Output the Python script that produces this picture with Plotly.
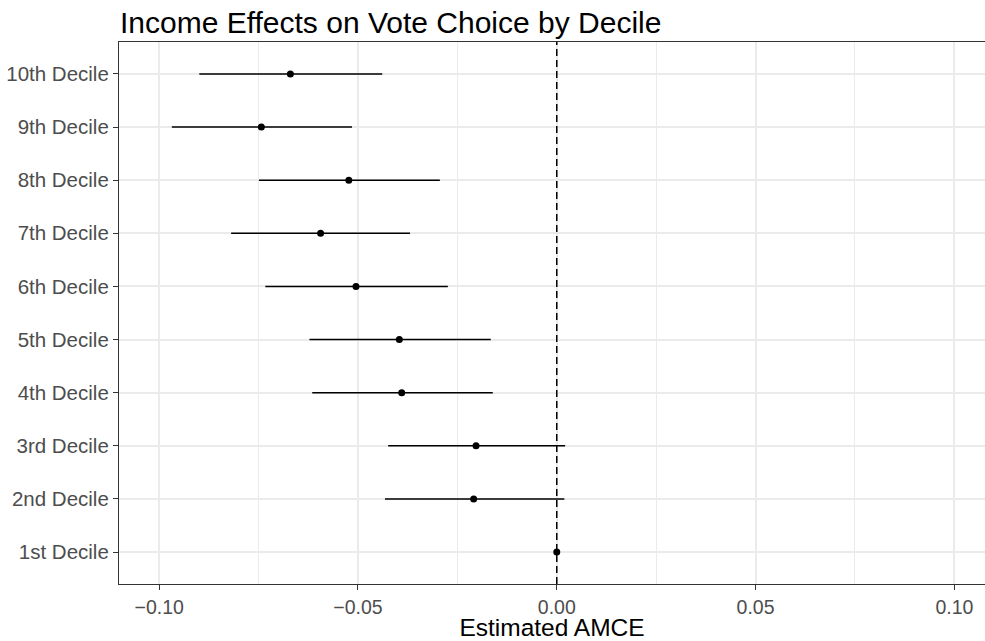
import plotly.graph_objects as go

deciles = ["1st Decile", "2nd Decile", "3rd Decile", "4th Decile", "5th Decile",
           "6th Decile", "7th Decile", "8th Decile", "9th Decile", "10th Decile"]
estimate = [0.0, -0.0209, -0.0203, -0.0390, -0.0396, -0.0505, -0.0594, -0.0523, -0.0743, -0.0670]
lower = [0.0, -0.0432, -0.0424, -0.0615, -0.0622, -0.0733, -0.0819, -0.0749, -0.0968, -0.0899]
upper = [0.0, 0.0019, 0.0021, -0.0161, -0.0166, -0.0274, -0.0369, -0.0294, -0.0515, -0.0439]

x_ticks = [-0.10, -0.05, 0.00, 0.05, 0.10]
x_tick_labels = ["\u22120.10", "\u22120.05", "0.00", "0.05", "0.10"]

err_plus = [u - e for u, e in zip(upper, estimate)]
err_minus = [e - l for e, l in zip(estimate, lower)]

FONT = "Liberation Sans, Arial, sans-serif"
W, H = 985, 641

fig = go.Figure()
fig.add_trace(go.Scatter(
    x=estimate, y=deciles, mode="markers",
    marker=dict(color="black", size=7),
    error_x=dict(type="data", symmetric=False, array=err_plus, arrayminus=err_minus,
                 color="black", thickness=1.5, width=0),
    showlegend=False, hoverinfo="skip",
))

fig.add_shape(type="line", x0=0, x1=0, xref="x", y0=0, y1=1, yref="paper",
              line=dict(color="black", width=1.5, dash="7px,4px"), layer="above")

fig.update_layout(
    width=W, height=H,
    margin=dict(l=119, r=0, t=42, b=57, pad=0),
    paper_bgcolor="white", plot_bgcolor="white",
    font=dict(family=FONT, color="#4D4D4D"),
    title=dict(text="Income Effects on Vote Choice by Decile",
               font=dict(family=FONT, size=30, color="black"),
               x=120 / W, xref="container", xanchor="left",
               y=1 - 22 / H, yref="container", yanchor="middle"),
    showlegend=False,
)

fig.update_xaxes(
    range=[-0.1101, 0.1077],
    tickmode="array", tickvals=x_ticks, ticktext=x_tick_labels,
    tickfont=dict(size=19.5, color="#4D4D4D", family=FONT),
    ticks="outside", ticklen=5, tickwidth=1.2, tickcolor="#333333",
    showgrid=True, gridcolor="#EBEBEB", gridwidth=1.5,
    minor=dict(tickvals=[-0.075, -0.025, 0.025, 0.075], showgrid=True,
               gridcolor="#EBEBEB", gridwidth=1),
    zeroline=False,
    showline=True, linecolor="#333333", linewidth=1.2, mirror=True,
    title=dict(text="Estimated AMCE", font=dict(size=24.5, color="black", family=FONT), standoff=0),
)

fig.update_yaxes(
    type="category", categoryorder="array", categoryarray=deciles,
    range=[-0.6, 9.6],
    tickfont=dict(size=20.5, color="#4D4D4D", family=FONT),
    ticks="outside", ticklen=5, tickwidth=1.2, tickcolor="#333333",
    showgrid=True, gridcolor="#EBEBEB", gridwidth=1.5,
    zeroline=False,
    showline=True, linecolor="#333333", linewidth=1.2, mirror=False,
)

fig.write_html(
    "out.html",
    config={"displayModeBar": False},
    post_script="document.body.style.margin='0';document.body.style.overflow='hidden';",
)
